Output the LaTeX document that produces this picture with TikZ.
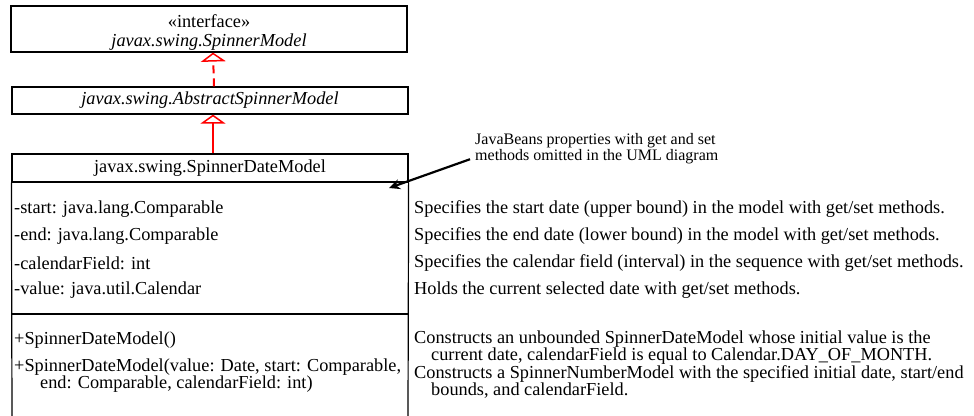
\documentclass[tikz,border=0pt]{standalone}
\usepackage{fontspec}
\setmainfont{Liberation Serif}
\usetikzlibrary{arrows.meta}
\begin{document}
\begin{tikzpicture}[x=1pt,y=-1pt,
  box/.style={draw, line width=1.2pt, inner sep=0pt, minimum width=396pt, align=center,
    font=\fontsize{18.3}{19}\selectfont},
  txt/.style={anchor=west, inner sep=0pt, font=\fontsize{18.3}{19}\selectfont},
  desc/.style={anchor=west, inner sep=0pt, font=\fontsize{18.3}{19}\selectfont},
  notetxt/.style={anchor=west, inner sep=0pt, align=left, font=\fontsize{16}{16.5}\selectfont},
  gen/.style={red, line width=2pt, -{Triangle[open, length=9pt, width=25pt, fill=white, line width=1.5pt]}},
  rule/.style={line width=1.2pt},
]
\useasboundingbox (0,0) rectangle (974,415);
% class boxes
\node[box, minimum height=46pt] (iface) at (209,29) {};
\node[box, draw=none, minimum width=0pt] (ifacetext) at (209,32.5) {«interface»\\\textit{javax.swing.SpinnerModel}};
\node[box, minimum height=27pt] (abs) at (210,100.5) {\textit{javax.swing.AbstractSpinnerModel}};
\node[box, minimum height=28pt] (cls) at (210,168) {javax.swing.SpinnerDateModel};
\draw[rule] (cls.south west) -- (12,417);
\draw[rule] (cls.south east) -- (408,417);
\draw[rule] (12,314) -- (408,314);
% generalization arrows
\draw[gen, dash pattern=on 8pt off 5pt] ([xshift=4pt]abs.north) -- ([xshift=4pt]iface.south);
\draw[gen] ([xshift=3pt]cls.north) -- ([xshift=3pt]abs.south);
% attributes
\node[txt] (a1) at (14,209) {-start: java.lang.Comparable};
\node[txt] (a2) at (14,236) {-end: java.lang.Comparable};
\node[txt] (a3) at (14,263) {-calendarField: int};
\node[txt] (a4) at (14,290) {-value: java.util.Calendar};
% methods
\node[txt] (m1) at (14,340) {+SpinnerDateModel()};
\node[txt] (m2) at (14,367) {+SpinnerDateModel(value: Date, start: Comparable,};
\node[txt] (m2b) at (40,384) {end: Comparable, calendarField: int)};
% descriptions
\node[desc] (d1) at (414,209) {Specifies the start date (upper bound) in the model with get/set methods.};
\node[desc] (d2) at (414,236) {Specifies the end date (lower bound) in the model with get/set methods.};
\node[desc] (d3) at (414,263) {Specifies the calendar field (interval) in the sequence with get/set methods.};
\node[desc] (d4) at (414,290) {Holds the current selected date with get/set methods.};
\node[desc] (d5) at (414,339) {Constructs an unbounded SpinnerDateModel whose initial value is the};
\node[desc] (d5b) at (431,356) {current date, calendarField is equal to Calendar.DAY\_OF\_MONTH.};
\node[desc] (d6) at (414,374) {Constructs a SpinnerNumberModel with the specified initial date, start/end};
\node[desc] (d6b) at (431,391) {bounds, and calendarField.};
% annotation
\node[notetxt] (note) at (475,148.5) {JavaBeans properties with get and set\\methods omitted in the UML diagram};
\coordinate (tip) at (389,188);
\draw[line width=2.2pt, -{Stealth[length=11pt, width=10pt]}] ([xshift=-5pt, yshift=5pt]note.south west) -- (tip);
\end{tikzpicture}
\end{document}
